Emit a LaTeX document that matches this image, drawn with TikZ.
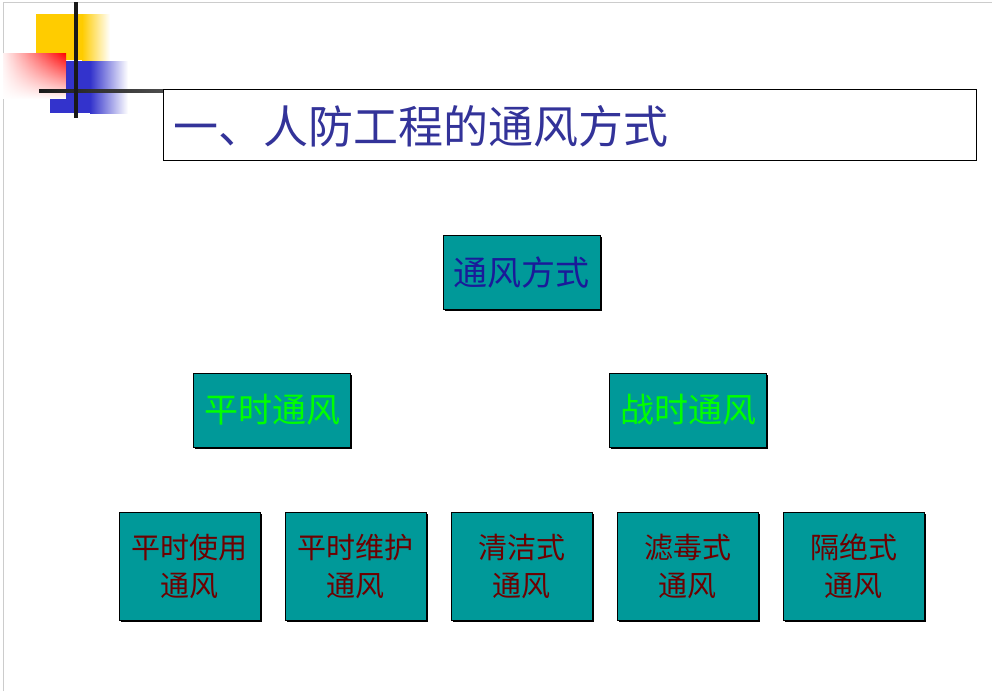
\documentclass[tikz,border=0pt]{standalone}
\usepackage{fontspec}
\setmainfont{Noto Sans CJK SC}
\usetikzlibrary{positioning, shadows, fadings}

\definecolor{tealfill}{RGB}{0,153,153}
\definecolor{titleblue}{RGB}{51,51,153}
\definecolor{topblue}{RGB}{26,26,153}
\definecolor{warmgreen}{RGB}{0,255,0}
\definecolor{lowred}{RGB}{110,0,0}
\definecolor{decoyellow}{RGB}{255,204,0}
\definecolor{decoblue}{RGB}{51,51,204}

\begin{document}
\begin{tikzpicture}[x=1pt, y=-1pt, node distance=24pt,
    box/.style={rectangle, draw, line width=1pt, fill=tealfill, inner sep=0pt,
      drop shadow={shadow xshift=1.5pt, shadow yshift=-1.5pt, fill=black, opacity=1}},
    midbox/.style={box, minimum width=157pt, minimum height=74pt, font=\fontsize{34}{40}\selectfont},
    leafbox/.style={box, minimum width=141pt, minimum height=108pt, align=center,
      text=lowred, font=\fontsize{29}{38}\selectfont}]
\useasboundingbox (0,0) rectangle (992,691);

% page edge and corner decoration
\draw[gray!40] (3,691) -- (3,2) -- (992,2);
\fill[decoyellow] (36,14) rectangle (82,60);
\shade[left color=decoyellow, right color=white] (82,14) rectangle (110,60);
\fill[decoblue] (50,61) rectangle (90,113);
\shade[left color=decoblue, right color=white] (90,61) rectangle (128,113);
\fill[white] (3,53) rectangle (66,99);
\shade[left color=red!5, right color=red, path fading=south] (3,53) rectangle (66,99);
\shade[left color=black!90, right color=black!70] (39,89.5) rectangle (163,92);
\fill[black!90] (74,2) rectangle (78,118);

% title
\node[draw, line width=0.8pt, minimum width=813pt, minimum height=71pt, inner sep=0pt] (title) at (569.5,124.5) {};
\node[anchor=west, text=titleblue, font=\fontsize{45}{48}\selectfont, inner sep=0pt] (titletext) at (173,126) {一、人防工程的通风方式};

% tree of boxes
\node[midbox, text=topblue] (mode) at (521.5,272.5) {通风方式};
\node[midbox, text=warmgreen] (peace) at (272,410) {平时通风};
\node[midbox, text=warmgreen] (war) at (688,410) {战时通风};

\node[leafbox] (clean) at (521.5,566) {清洁式\\通风};
\node[leafbox, left=of clean] (keep) {平时维护\\通风};
\node[leafbox, left=of keep] (use) {平时使用\\通风};
\node[leafbox, right=of clean] (filter) {滤毒式\\通风};
\node[leafbox, right=of filter] (isolate) {隔绝式\\通风};
\end{tikzpicture}
\end{document}
